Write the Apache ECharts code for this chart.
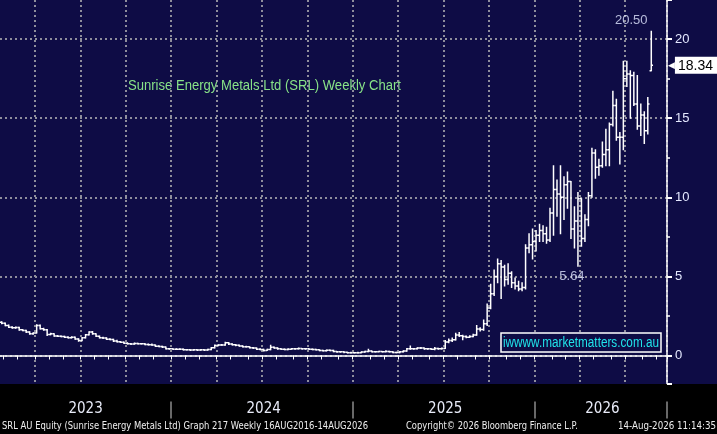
<!DOCTYPE html>
<html lang="en">
<head>
<meta charset="UTF-8">
<title>SRL Weekly Chart</title>
<script src="https://cdn.jsdelivr.net/npm/echarts@6/dist/echarts.min.js"></script>
<style>
  html, body { margin: 0; padding: 0; background: #000; }
  #container { width: 717px; height: 434px; }
</style>
</head>
<body>
<div id="container"></div>
<script>
// weekly bars, first week ending 20 Jan 2023, last bar 14 Aug 2026 (a few empty weeks after it)
var firstWeek = Date.UTC(2023, 0, 20);
var weekCount = 191;

var opens = [
  2.10, 2.04, 1.90, 1.79, 1.75, 1.77, 1.62, 1.58, 1.48, 1.37,
  1.42, 1.90, 1.69, 1.62, 1.33, 1.37, 1.24, 1.22, 1.20, 1.16,
  1.12, 1.16, 1.05, 0.95, 1.12, 1.31, 1.48, 1.37, 1.22, 1.12,
  1.10, 1.03, 1.01, 0.91, 0.87, 0.84, 0.78, 0.74, 0.72, 0.76,
  0.74, 0.74, 0.70, 0.68, 0.66, 0.59, 0.57, 0.53, 0.42, 0.42,
  0.40, 0.40, 0.40, 0.36, 0.36, 0.34, 0.36, 0.34, 0.36, 0.34,
  0.38, 0.49, 0.63, 0.66, 0.66, 0.80, 0.72, 0.68, 0.64, 0.60,
  0.55, 0.55, 0.49, 0.47, 0.40, 0.38, 0.32, 0.38, 0.52, 0.48,
  0.42, 0.40, 0.38, 0.40, 0.42, 0.42, 0.44, 0.42, 0.42, 0.40,
  0.38, 0.36, 0.32, 0.30, 0.33, 0.32, 0.25, 0.23, 0.23, 0.20,
  0.18, 0.18, 0.17, 0.18, 0.22, 0.25, 0.28, 0.24, 0.24, 0.25,
  0.24, 0.26, 0.24, 0.19, 0.19, 0.23, 0.28, 0.42, 0.42, 0.42,
  0.47, 0.47, 0.42, 0.42, 0.40, 0.45, 0.42, 0.45, 0.85, 0.95,
  1.00, 1.30, 1.25, 1.20, 1.16, 1.20, 1.30, 1.68, 1.65, 2.00,
  3.00, 3.90, 5.00, 5.80, 5.60, 4.80, 5.20, 4.60, 4.40, 4.20,
  4.30, 6.80, 7.00, 7.20, 7.60, 7.90, 7.70, 7.30, 9.00, 10.50,
  10.20, 10.00, 10.80, 11.00, 8.00, 8.50, 9.90, 7.40, 8.60, 10.10,
  12.80, 11.90, 12.00, 12.70, 13.00, 14.60, 15.80, 13.80, 13.80, 17.50,
  17.80, 17.70, 15.90, 14.50, 15.20, 14.20, 18.00
];
var highs = [
  2.14, 2.06, 1.92, 1.82, 1.80, 1.78, 1.64, 1.60, 1.50, 1.44,
  1.95, 1.92, 1.72, 1.64, 1.40, 1.38, 1.27, 1.24, 1.22, 1.18,
  1.19, 1.17, 1.06, 1.14, 1.33, 1.50, 1.52, 1.38, 1.24, 1.15,
  1.12, 1.06, 1.02, 0.96, 0.89, 0.86, 0.80, 0.76, 0.79, 0.78,
  0.76, 0.76, 0.72, 0.72, 0.67, 0.61, 0.58, 0.54, 0.44, 0.43,
  0.42, 0.42, 0.41, 0.38, 0.37, 0.38, 0.37, 0.38, 0.37, 0.40,
  0.51, 0.66, 0.68, 0.69, 0.84, 0.82, 0.75, 0.70, 0.66, 0.62,
  0.58, 0.56, 0.51, 0.48, 0.42, 0.39, 0.40, 0.64, 0.54, 0.49,
  0.43, 0.41, 0.42, 0.44, 0.44, 0.48, 0.45, 0.44, 0.43, 0.41,
  0.39, 0.37, 0.33, 0.35, 0.34, 0.33, 0.26, 0.25, 0.24, 0.21,
  0.20, 0.19, 0.20, 0.24, 0.27, 0.40, 0.29, 0.26, 0.27, 0.26,
  0.30, 0.27, 0.25, 0.21, 0.25, 0.30, 0.44, 0.60, 0.45, 0.49,
  0.50, 0.48, 0.44, 0.43, 0.50, 0.46, 0.48, 0.95, 1.05, 1.10,
  1.40, 1.45, 1.28, 1.24, 1.25, 1.35, 1.90, 1.75, 2.25, 3.25,
  4.50, 5.40, 6.10, 6.00, 5.70, 5.80, 5.30, 4.90, 4.70, 4.60,
  7.00, 7.70, 8.00, 7.90, 8.30, 8.20, 8.10, 9.30, 12.00, 11.10,
  12.00, 11.30, 11.60, 11.00, 9.40, 10.30, 9.90, 8.90, 10.30, 13.10,
  13.00, 12.40, 13.50, 14.30, 14.70, 16.70, 16.20, 14.10, 18.60, 18.60,
  18.00, 17.90, 17.70, 15.90, 15.40, 16.30, 20.50
];
var lows = [
  2.00, 1.88, 1.77, 1.72, 1.73, 1.60, 1.56, 1.46, 1.35, 1.35,
  1.42, 1.67, 1.60, 1.26, 1.31, 1.22, 1.20, 1.18, 1.14, 1.10,
  1.10, 1.03, 0.90, 0.94, 1.10, 1.30, 1.35, 1.20, 1.10, 1.08,
  1.01, 0.99, 0.89, 0.85, 0.82, 0.76, 0.72, 0.70, 0.71, 0.72,
  0.72, 0.68, 0.66, 0.64, 0.57, 0.55, 0.51, 0.41, 0.40, 0.39,
  0.38, 0.38, 0.35, 0.34, 0.32, 0.33, 0.32, 0.33, 0.32, 0.33,
  0.37, 0.48, 0.61, 0.64, 0.65, 0.70, 0.66, 0.62, 0.58, 0.53,
  0.53, 0.47, 0.45, 0.38, 0.36, 0.29, 0.31, 0.37, 0.46, 0.40,
  0.38, 0.36, 0.37, 0.39, 0.40, 0.41, 0.40, 0.40, 0.38, 0.36,
  0.34, 0.30, 0.28, 0.29, 0.30, 0.23, 0.21, 0.21, 0.18, 0.16,
  0.16, 0.15, 0.16, 0.17, 0.21, 0.24, 0.22, 0.22, 0.23, 0.22,
  0.23, 0.22, 0.17, 0.17, 0.18, 0.22, 0.27, 0.40, 0.40, 0.41,
  0.45, 0.40, 0.40, 0.38, 0.37, 0.40, 0.41, 0.45, 0.80, 0.88,
  0.98, 1.20, 1.00, 1.12, 1.14, 1.18, 1.28, 1.55, 1.60, 1.90,
  2.95, 3.80, 4.60, 3.60, 4.40, 4.50, 4.30, 4.20, 4.10, 4.10,
  4.20, 6.50, 6.10, 6.60, 7.20, 7.20, 7.10, 7.20, 7.60, 8.80,
  7.70, 8.60, 9.30, 7.40, 6.80, 5.64, 6.90, 7.20, 8.20, 10.00,
  11.20, 11.40, 11.90, 12.00, 12.00, 14.50, 13.60, 12.10, 13.00, 17.00,
  15.00, 15.80, 14.30, 13.90, 13.40, 14.00, 18.00
];
var closes = [
  2.04, 1.90, 1.79, 1.75, 1.77, 1.62, 1.58, 1.48, 1.37, 1.42,
  1.90, 1.69, 1.62, 1.33, 1.37, 1.24, 1.22, 1.20, 1.16, 1.12,
  1.16, 1.05, 0.95, 1.12, 1.31, 1.48, 1.37, 1.22, 1.12, 1.10,
  1.03, 1.01, 0.91, 0.87, 0.84, 0.78, 0.74, 0.72, 0.76, 0.74,
  0.74, 0.70, 0.68, 0.66, 0.59, 0.57, 0.53, 0.42, 0.42, 0.40,
  0.40, 0.40, 0.36, 0.36, 0.34, 0.36, 0.34, 0.36, 0.34, 0.38,
  0.49, 0.63, 0.66, 0.66, 0.80, 0.72, 0.68, 0.64, 0.60, 0.55,
  0.55, 0.49, 0.47, 0.40, 0.38, 0.32, 0.38, 0.52, 0.48, 0.42,
  0.40, 0.38, 0.40, 0.42, 0.42, 0.44, 0.42, 0.42, 0.40, 0.38,
  0.36, 0.32, 0.30, 0.33, 0.32, 0.25, 0.23, 0.23, 0.20, 0.18,
  0.18, 0.17, 0.18, 0.22, 0.25, 0.28, 0.24, 0.24, 0.25, 0.24,
  0.26, 0.24, 0.19, 0.19, 0.23, 0.28, 0.42, 0.42, 0.42, 0.47,
  0.47, 0.42, 0.42, 0.40, 0.45, 0.42, 0.45, 0.85, 0.95, 1.00,
  1.30, 1.25, 1.20, 1.16, 1.20, 1.30, 1.68, 1.65, 2.00, 3.00,
  3.90, 5.00, 5.80, 5.60, 4.80, 5.20, 4.60, 4.40, 4.20, 4.30,
  6.80, 7.00, 7.20, 7.60, 7.90, 7.70, 7.30, 9.00, 10.50, 10.20,
  10.00, 10.80, 11.00, 8.00, 8.50, 9.90, 7.40, 8.60, 10.10, 12.80,
  11.90, 12.00, 12.70, 13.00, 14.60, 15.80, 13.80, 13.80, 17.50, 17.80,
  17.70, 15.90, 14.50, 15.20, 14.20, 15.90, 18.34
];

var lastPrice = 18.34;
var highLabel = { index: 186, value: 20.50, text: '20.50' };
var lowLabel = { index: 165, value: 5.64, text: '5.64' };

var titleText = 'Sunrise Energy Metals Ltd (SRL) Weekly Chart';
var siteText = 'iwwww.marketmatters.com.au';
var footLeft = 'SRL AU Equity (Sunrise Energy Metals Ltd) Graph 217 Weekly 16AUG2016-14AUG2026';
var footMid = 'Copyright\u00A9 2026 Bloomberg Finance L.P.';
var footRight = '14-Aug-2026 11:14:35';

var dates = [];
for (var i = 0; i < weekCount; i++) {
    dates.push(new Date(firstWeek + i * 7 * 86400000).toISOString().slice(0, 10));
}

var bars = [];
for (var i = 0; i < closes.length; i++) {
    bars.push([i, opens[i], highs[i], lows[i], closes[i]]);
}

function month(i) { return +dates[i].slice(5, 7); }
function year(i) { return dates[i].slice(0, 4); }
// a period line sits just after the last weekly bar of the old period
function monthEnd(i) { return i + 1 < weekCount && month(i + 1) !== month(i); }
function quarterEnd(i) { return i + 1 < weekCount && Math.floor((month(i + 1) - 1) / 3) !== Math.floor((month(i) - 1) / 3); }
function yearEnd(i) { return i + 1 < weekCount && year(i + 1) !== year(i); }

// index of the middle week of each year's visible part
var yearMid = {};
(function () {
    var first = 0;
    for (var i = 0; i < weekCount; i++) {
        if (i === weekCount - 1 || year(i + 1) !== year(i)) {
            yearMid[Math.floor((first + i) / 2)] = true;
            first = i + 1;
        }
    }
})();

var ctx = document.createElement('canvas').getContext('2d');
function fit(text, font, width) {
    ctx.font = font;
    return width / ctx.measureText(text).width;
}

var gridDots = { color: '#8e8e9c', width: 2, type: [2, 3] };

function renderOhlc(params, api) {
    var idx = api.value(0);
    var x = api.coord([idx, 0])[0];
    var yo = api.coord([idx, api.value(1)])[1];
    var yh = api.coord([idx, api.value(2)])[1];
    var yl = api.coord([idx, api.value(3)])[1];
    var yc = api.coord([idx, api.value(4)])[1];
    var w = api.size([1, 0])[0] * 0.5;
    var st = { stroke: '#ffffff', lineWidth: 1.5 };
    return {
        type: 'group',
        children: [
            { type: 'line', shape: { x1: x, y1: yh - 0.5, x2: x, y2: yl + 0.5 }, style: st },
            { type: 'line', shape: { x1: x - w, y1: yo, x2: x, y2: yo }, style: st },
            { type: 'line', shape: { x1: x, y1: yc, x2: x + w, y2: yc }, style: st }
        ]
    };
}

var footFont = '11px "DejaVu Sans"';
var titleFont = '14px "Liberation Sans"';
var siteFont = '14px "Liberation Sans"';

var dom = document.getElementById('container');
var myChart = echarts.init(dom);

var option = {
    animation: false,
    backgroundColor: '#000000',
    grid: { left: -1, right: 50, top: 0, bottom: 50.5, containLabel: false },
    graphic: [
        { type: 'rect', z: -100, silent: true, shape: { x: 0, y: 0, width: 717, height: 384 }, style: { fill: '#0e0c45' } },
        {
            type: 'text', x: 128, y: 86, silent: true, scaleX: fit(titleText, titleFont, 273),
            style: { text: titleText, font: titleFont, fill: '#88e388', verticalAlign: 'middle' }
        },
        {
            type: 'rect', silent: true, z: 50, shape: { x: 501, y: 333, width: 160, height: 19 },
            style: { fill: '#0e0c45', stroke: '#ffffff', lineWidth: 1.5 }
        },
        {
            type: 'text', x: 503, y: 343, z: 51, silent: true, scaleX: fit(siteText, siteFont, 156),
            style: { text: siteText, font: siteFont, fill: '#20e4ea', verticalAlign: 'middle' }
        },
        {
            type: 'text', x: 2, y: 426, silent: true, scaleX: fit(footLeft, footFont, 366),
            style: { text: footLeft, font: footFont, fill: '#eeeeee', verticalAlign: 'middle' }
        },
        {
            type: 'text', x: 406, y: 426, silent: true, scaleX: fit(footMid, footFont, 172),
            style: { text: footMid, font: footFont, fill: '#eeeeee', verticalAlign: 'middle' }
        },
        {
            type: 'text', x: 716, y: 426, silent: true, scaleX: fit(footRight, footFont, 98),
            style: { text: footRight, font: footFont, fill: '#eeeeee', align: 'right', verticalAlign: 'middle' }
        }
    ],
    xAxis: [
        {
            type: 'category',
            data: dates,
            boundaryGap: true,
            position: 'bottom',
            axisLine: { show: true, lineStyle: { color: '#ffffff', width: 1.5 } },
            axisTick: { show: true, length: 4, interval: function (i) { return monthEnd(i); }, lineStyle: { color: '#ffffff', width: 1 } },
            axisLabel: { show: false },
            splitLine: { show: true, interval: function (i) { return quarterEnd(i); }, lineStyle: gridDots }
        },
        {
            type: 'category',
            data: dates,
            boundaryGap: true,
            position: 'bottom',
            offset: 18,
            axisLine: { show: false },
            axisTick: { show: true, length: 17, interval: function (i) { return yearEnd(i); }, lineStyle: { color: '#8a8a8a', width: 1.5 } },
            axisLabel: {
                show: true,
                interval: function (i) { return !!yearMid[i]; },
                formatter: function (v) { return v.slice(0, 4); },
                color: '#e8ebf8',
                fontSize: 15,
                fontFamily: '"Liberation Sans Narrow", "DejaVu Sans Condensed", "Liberation Sans", sans-serif',
                margin: 0
            },
            splitLine: { show: false }
        }
    ],
    yAxis: {
        type: 'value',
        position: 'right',
        min: -1.77,
        max: 22.47,
        splitNumber: 5,
        axisLine: { show: true, lineStyle: { color: '#ffffff', width: 1.5 } },
        axisTick: { show: true, length: 5, lineStyle: { color: '#ffffff', width: 2 } },
        minorTick: { show: true, splitNumber: 2, length: 3, lineStyle: { color: '#ffffff', width: 1.5 } },
        axisLabel: {
            color: '#e4e8ff', fontSize: 13, margin: 8,
            fontFamily: '"Liberation Sans", sans-serif',
            showMinLabel: false, showMaxLabel: false
        },
        splitLine: { show: true, showMinLine: false, showMaxLine: false, lineStyle: gridDots }
    },
    series: [
        {
            name: 'SRL',
            type: 'custom',
            renderItem: renderOhlc,
            data: bars,
            encode: { x: 0, y: [1, 2, 3, 4] },
            clip: true,
            z: 5
        },
        {
            name: 'labels',
            type: 'scatter',
            symbolSize: 0,
            silent: true,
            z: 6,
            label: { show: true, color: '#e0e6ff', fontSize: 13, fontFamily: '"Liberation Sans", sans-serif' },
            data: [
                { value: [highLabel.index, highLabel.value], label: { formatter: highLabel.text, position: 'top', distance: 4, offset: [-20, 0] } },
                { value: [lowLabel.index, lowLabel.value], label: { formatter: lowLabel.text, position: 'bottom', distance: 4, offset: [-6, 0] } }
            ],
            markLine: {
                silent: true,
                symbol: ['none', 'none'],
                lineStyle: { color: 'rgba(0,0,0,0)', width: 0 },
                data: [{ yAxis: lastPrice }],
                label: {
                    show: true, position: 'end', distance: 1,
                    formatter: '{a|\u25C0}{b|' + lastPrice.toFixed(2) + '}',
                    rich: {
                        a: { color: '#ffffff', fontSize: 9, fontFamily: '"DejaVu Sans"', lineHeight: 17 },
                        b: {
                            backgroundColor: '#ffffff', color: '#000000', fontSize: 14,
                            fontFamily: '"Liberation Sans", sans-serif',
                            padding: [2, 6, 1, 3], lineHeight: 17
                        }
                    }
                }
            }
        }
    ]
};

myChart.setOption(option, true);
</script>
</body>
</html>
